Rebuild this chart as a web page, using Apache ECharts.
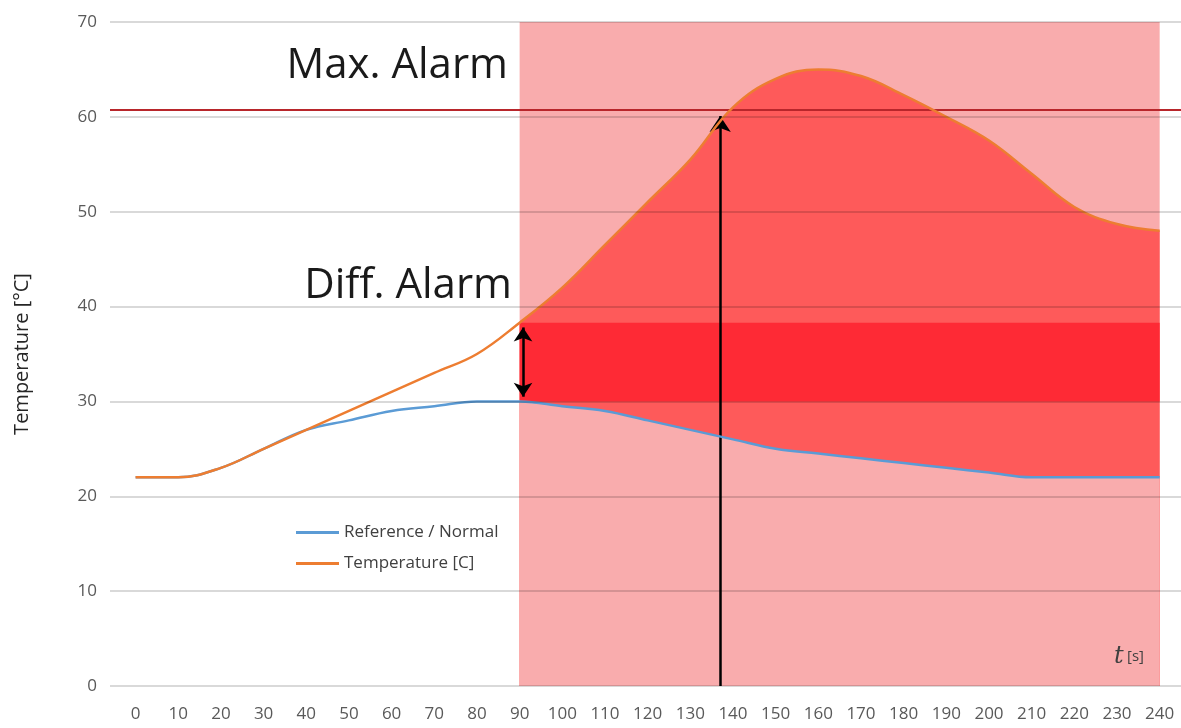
<!DOCTYPE html>
<html>
<head>
<meta charset="utf-8">
<title>Temperature alarm</title>
<script src="https://cdn.jsdelivr.net/npm/echarts@6/dist/echarts.min.js"></script>
<style>
    html, body {margin:0; padding:0; background:#fff;}
    #ChartMain {width:1181px; height:728px;}
</style>
</head>
<body>
<div id="ChartMain"></div>
<script type="text/javascript">
// time axis [s]
var times = [0, 10, 20, 30, 40, 50, 60, 70, 80, 90, 100, 110, 120, 130, 140, 150, 160, 170, 180, 190, 200, 210, 220, 230, 240];
var tickLabels = [0, 10, 20, 30, 40, 50, 60, 70, 80, 90, 100, 110, 120, 130, 140, 150, 160, 170, 180, 190, 200, 210, 220, 230, 240];
var reference = [22, 22, 23, 25, 27, 28, 29, 29.5, 30, 30, 29.5, 29, 28, 27, 26, 25, 24.5, 24, 23.5, 23, 22.5, 22, 22, 22, 22];
var temperature = [22, 22, 23, 25, 27, 29, 31, 33, 35, 38.3, 42, 46.5, 51, 55.5, 61, 64, 65, 64.3, 62.3, 60, 57.5, 54, 50.5, 48.7, 48];
// alarm annotations
var alarmStart = 90;
var alarmEnd = 240;
var maxAlarm = 60.7;
var maxAlarmTime = 137;
var diffBand = [30, 38.3];

function pairs(vals, from) {
    var out = [];
    for (var i = 0; i < times.length; i++) {
        if (times[i] >= from) out.push([times[i], vals[i]]);
    }
    return out;
}

var PINK = '#f9acad', RED = '#fe5a5a', DARK = '#fe2a35';
var font = '"Open Sans", "Noto Sans", sans-serif';

var myChart = echarts.init(document.getElementById('ChartMain'));
var option = {
    animation: false,
    textStyle: {fontFamily: font},
    grid: {left: 110, right: 0, top: 22, bottom: 42},
    legend: {
        orient: 'vertical',
        left: 291,
        top: 519,
        icon: 'rect',
        itemWidth: 43,
        itemHeight: 3,
        itemGap: 14,
        data: ['Reference / Normal', 'Temperature [C]'],
        textStyle: {fontSize: 17, color: '#404040', fontFamily: font}
    },
    xAxis: {
        type: 'value',
        min: -6,
        max: 245,
        splitLine: {show: false},
        axisLine: {show: false},
        axisTick: {show: false},
        axisLabel: {customValues: tickLabels, margin: 20, fontSize: 17, color: '#595959'}
    },
    yAxis: {
        type: 'value',
        min: 0,
        max: 70,
        interval: 10,
        z: 10,
        name: 'Temperature [°C]',
        nameLocation: 'middle',
        nameGap: 78,
        nameTextStyle: {fontSize: 20, color: '#262626'},
        axisLine: {show: false},
        axisTick: {show: false},
        axisLabel: {margin: 13, fontSize: 17, color: '#595959'},
        splitLine: {lineStyle: {color: 'rgba(0,0,0,0.2)', width: 1.5}}
    },
    series: [
        {
            name: 'zone',
            type: 'line',
            symbol: 'none',
            z: 1,
            data: [[alarmStart, 70], [alarmEnd, 70]],
            lineStyle: {width: 0},
            areaStyle: {color: PINK, opacity: 1, origin: 0}
        },
        {
            name: 'hot',
            type: 'line',
            smooth: 0.4,
            symbol: 'none',
            z: 2,
            data: pairs(temperature, alarmStart),
            lineStyle: {width: 0},
            areaStyle: {color: RED, opacity: 1}
        },
        {
            name: 'cool',
            type: 'line',
            smooth: 0.4,
            symbol: 'none',
            z: 3,
            data: pairs(reference, alarmStart),
            lineStyle: {width: 0},
            areaStyle: {color: PINK, opacity: 1}
        },
        {
            name: 'band',
            type: 'line',
            symbol: 'none',
            z: 4,
            data: [[alarmStart, diffBand[1]], [alarmEnd, diffBand[1]]],
            lineStyle: {width: 0},
            areaStyle: {color: DARK, opacity: 1, origin: diffBand[0]}
        },
        {
            name: 'Reference / Normal',
            type: 'line',
            smooth: 0.4,
            symbol: 'none',
            z: 5,
            color: '#5b9bd5',
            data: pairs(reference, 0),
            lineStyle: {width: 2.5, color: '#5b9bd5'}
        },
        {
            name: 'Temperature [C]',
            type: 'line',
            smooth: 0.4,
            symbol: 'none',
            z: 5,
            color: '#ed7d31',
            data: pairs(temperature, 0),
            lineStyle: {width: 2.5, color: '#ed7d31'}
        },
        {
            name: 'marks',
            type: 'line',
            data: [],
            z: 12,
            markLine: {
                silent: true,
                symbol: 'none',
                label: {show: false},
                data: [
                    {yAxis: maxAlarm, lineStyle: {color: '#b8262b', width: 2, type: 'solid'}},
                    [
                        {coord: [maxAlarmTime, 0], symbol: 'none'},
                        {coord: [maxAlarmTime, maxAlarm - 0.6], symbol: 'arrow', symbolSize: 16,
                         lineStyle: {color: '#000', width: 2.5, type: 'solid'}}
                    ],
                    [
                        {coord: [alarmStart + 0.8, diffBand[0] + 0.5], symbol: 'arrow', symbolSize: 14},
                        {coord: [alarmStart + 0.8, diffBand[1] - 0.5], symbol: 'arrow', symbolSize: 14,
                         lineStyle: {color: '#000', width: 2.5, type: 'solid'}}
                    ]
                ]
            }
        }
    ],
    graphic: [
        {type: 'text', right: 1181 - 508, top: 45, z: 20,
         style: {text: 'Max. Alarm', fontSize: 42, fill: '#1a1a1a', fontFamily: font}},
        {type: 'text', right: 1181 - 512, top: 265, z: 20,
         style: {text: 'Diff. Alarm', fontSize: 42, fill: '#1a1a1a', fontFamily: font}},
        {type: 'text', left: 1114, top: 645, z: 20,
         style: {
             text: '{t|t} {u|[s]}',
             rich: {
                 t: {fontSize: 24, fontStyle: 'italic', fontFamily: 'DejaVu Serif', fill: '#404040'},
                 u: {fontSize: 15, fill: '#404040', fontFamily: font}
             }
         }}
    ]
};
myChart.setOption(option);
</script>
</body>
</html>
